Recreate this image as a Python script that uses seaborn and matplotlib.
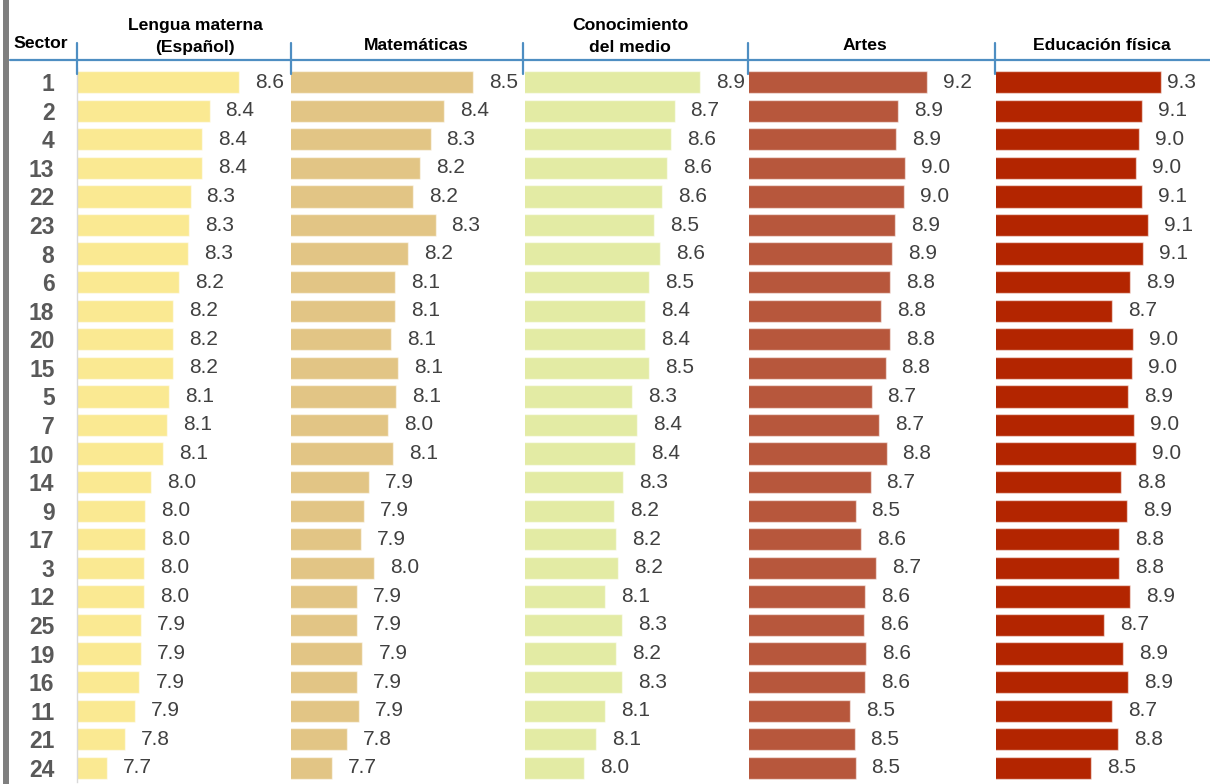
import matplotlib.pyplot as plt
import seaborn as sns
from matplotlib.lines import Line2D

# Datos: calificación promedio por sector y asignatura
sectores = ['1', '2', '4', '13', '22', '23', '8', '6', '18', '20', '15', '5', '7',
            '10', '14', '9', '17', '3', '12', '25', '19', '16', '11', '21', '24']

lengua = [8.61, 8.41, 8.36, 8.36, 8.28, 8.27, 8.26, 8.20, 8.16, 8.16, 8.16, 8.13, 8.12,
          8.09, 8.01, 7.97, 7.97, 7.96, 7.96, 7.94, 7.94, 7.93, 7.90, 7.83, 7.71]
matematicas = [8.54, 8.37, 8.29, 8.23, 8.19, 8.32, 8.16, 8.08, 8.08, 8.06, 8.10, 8.09, 8.04,
               8.07, 7.93, 7.90, 7.88, 7.96, 7.86, 7.86, 7.89, 7.86, 7.87, 7.80, 7.71]
conocimiento = [8.87, 8.67, 8.64, 8.61, 8.57, 8.51, 8.56, 8.47, 8.44, 8.44, 8.47, 8.34, 8.38,
                8.36, 8.27, 8.20, 8.21, 8.23, 8.13, 8.26, 8.21, 8.26, 8.13, 8.06, 7.96]
artes = [9.19, 8.92, 8.90, 8.98, 8.97, 8.89, 8.86, 8.84, 8.76, 8.84, 8.80, 8.67, 8.74,
         8.81, 8.66, 8.52, 8.57, 8.71, 8.61, 8.60, 8.62, 8.61, 8.47, 8.51, 8.52]
educacion = [9.28, 9.07, 9.04, 9.00, 9.07, 9.13, 9.08, 8.94, 8.74, 8.97, 8.96, 8.92, 8.98,
             9.01, 8.84, 8.91, 8.82, 8.82, 8.94, 8.66, 8.86, 8.92, 8.74, 8.81, 8.52]

sns.set_style('white')
plt.rcParams['font.family'] = ['Liberation Sans', 'DejaVu Sans']
narrow = ['Liberation Sans Narrow', 'Liberation Sans', 'DejaVu Sans']

W, H = 1210, 784
fig = plt.figure(figsize=(W / 100, H / 100), dpi=100)


def fx(px):
    return px / W


def fy(py):
    return 1 - py / H


top_px, bottom_px = 67.9, 782.1

# titulo, datos, color, izquierda px, derecha px, xmin, xmax, centro titulo x, centro titulo y
paneles = [
    ('Lengua materna\n(Español)', lengua, '#FAE992', 76.7, 290, 7.500, 8.961, 195, 36.5),
    ('Matemáticas', matematicas, '#E2C585', 290.7, 522, 7.468, 8.828, 416.5, 45.5),
    ('Conocimiento\ndel medio', conocimiento, '#E3EBA4', 525, 747, 7.502, 9.236, 630, 36.5),
    ('Artes', artes, '#B7573C', 748.7, 994, 7.521, 9.814, 865, 45.5),
    ('Educación física', educacion, '#B32500', 996, 1210, 7.483, 9.809, 1101.7, 45.5),
]

for k, (titulo, vals, col, L, R, xmin, xmax, tx, ty) in enumerate(paneles):
    ax = fig.add_axes([fx(L), fy(bottom_px), (R - L) / W, (bottom_px - top_px) / H])
    ax.patch.set_visible(False)
    sns.barplot(x=vals, y=sectores, color=col, saturation=1, width=0.78,
                edgecolor=(1, 1, 1, 0.55), linewidth=1, orient='h', ax=ax)
    ax.set_xlim(xmin, xmax)
    ax.set_ylim(len(sectores) - 0.5, -0.5)
    ax.set_xticks([])
    ax.set_xlabel('')
    ax.set_ylabel('')
    for s in ['top', 'right', 'bottom']:
        ax.spines[s].set_visible(False)
    if k == 0:
        ax.spines['left'].set_color('#D9D9D9')
        ax.spines['left'].set_linewidth(1)
        ax.tick_params(axis='y', length=0, pad=16)
        for lab in ax.get_yticklabels():
            lab.set_family(narrow)
            lab.set_fontweight('bold')
            lab.set_fontsize(16.5)
            lab.set_color('#595959')
    else:
        ax.spines['left'].set_visible(False)
        ax.set_yticks([])

    # etiquetas de valor
    for i, v in enumerate(vals):
        px = ax.transData.transform((v, i))[0]
        off = min(16, 1167 - px)
        ax.annotate(f'{v:.1f}', xy=(v, i), xytext=(off, 0), textcoords='offset pixels',
                    ha='left', va='center', fontsize=15, color='#404040', family=narrow)

    fig.text(fx(tx), fy(ty), titulo, ha='center', va='center', fontweight='bold',
             fontsize=12.6, linespacing=1.6, color='black')

fig.text(fx(40.5), fy(43.5), 'Sector', ha='center', va='center', fontweight='bold',
         fontsize=12.6, color='black')

# linea azul del encabezado y marcas
azul = '#4E8EC2'
fig.add_artist(Line2D([fx(10), fx(1210)], [fy(59.5), fy(59.5)], color=azul, lw=1.6))
for x in [76.7, 291, 523, 748.3, 995]:
    fig.add_artist(Line2D([fx(x), fx(x)], [fy(43), fy(74)], color=azul, lw=1.6))

# barra gris a la izquierda
fig.add_artist(Line2D([fx(6), fx(6)], [0, 1], color='#7F7F7F', lw=4.3))

fig.savefig('out.png', dpi=100)
